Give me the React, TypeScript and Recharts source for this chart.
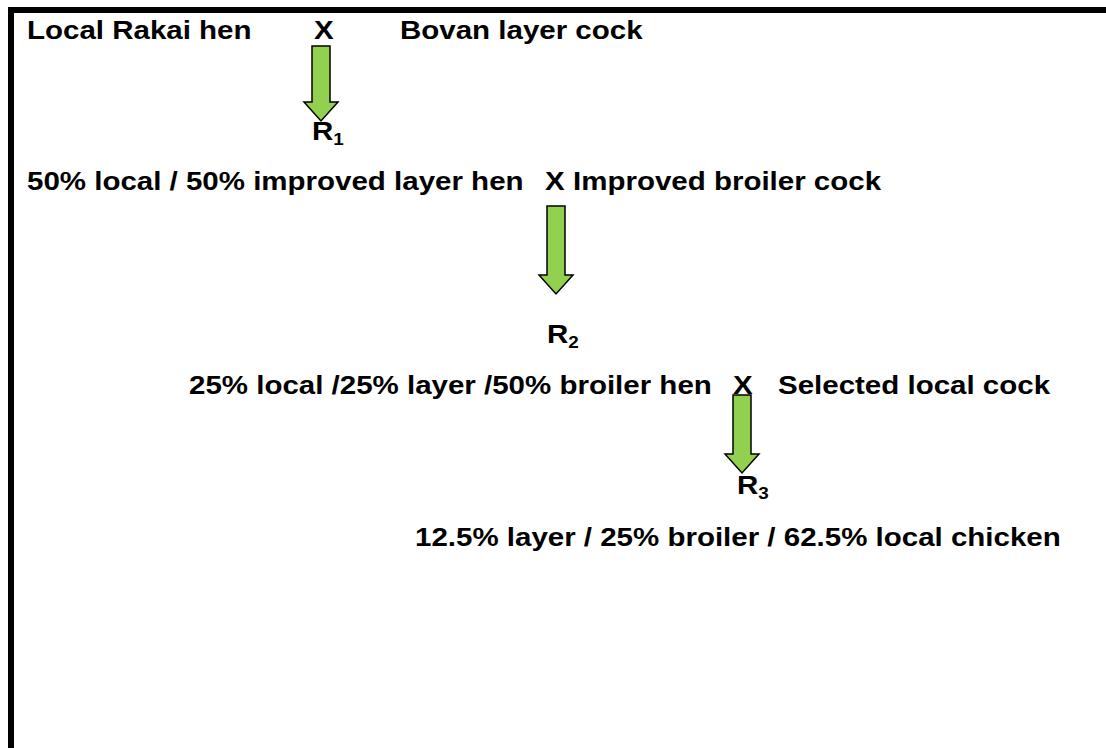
import { ReferenceLine, Scatter, ScatterChart, XAxis, YAxis } from "recharts";

// crossing scheme, one row per generation
const hens = [
  "Local Rakai hen",
  "50% local / 50% improved layer hen",
  "25% local /25% layer /50% broiler hen",
];
const cocks = ["Bovan layer cock", "Improved broiler cock", "Selected local cock"];
const offspring = "12.5% layer / 25% broiler / 62.5% local chicken";
const generations = ["1", "2", "3"];

// positions in page pixels (axis units == pixels)
const rowBaselines = [39, 190, 394, 546];
const henX = [27, 27, 189];
const crossX = [314, 545, 733];
const cockX = [400, 573, 778];
const offspringX = 415;
const arrowX = [321, 556, 742];
const arrowTop = [46, 206, 395];
const arrowTip = [121, 294, 473];
const genLabelX = [312, 547, 737];
const genLabelY = [140, 343, 494];

const W = 1106;
const H = 748;
const FONT = '"Liberation Sans", Arial, sans-serif';
const STRETCH = 1.18;

const labels = [
  ...hens.map((t, i) => ({ text: t, x: henX[i], y: rowBaselines[i] })),
  ...crossX.map((x, i) => ({ text: "X", x, y: rowBaselines[i] })),
  ...cocks.map((t, i) => ({ text: t, x: cockX[i], y: rowBaselines[i] })),
  { text: offspring, x: offspringX, y: rowBaselines[3] },
];

const arrows = arrowX.map((x, i) => ({ x, y: arrowTop[i], tip: arrowTip[i] }));

const genLabels = generations.map((g, i) => ({
  sub: g,
  x: genLabelX[i],
  y: genLabelY[i],
}));

const LabelShape = (props: any) => {
  const { cx, cy, payload } = props;
  return (
    <text
      transform={`translate(${cx},${cy}) scale(${STRETCH},1)`}
      x={0}
      y={0}
      fontFamily={FONT}
      fontWeight="bold"
      fontSize={25}
      fill="#000"
    >
      {payload.text}
    </text>
  );
};

const GenShape = (props: any) => {
  const { cx, cy, payload } = props;
  return (
    <text
      transform={`translate(${cx},${cy}) scale(${STRETCH},1)`}
      x={0}
      y={0}
      fontFamily={FONT}
      fontWeight="bold"
      fontSize={25}
      fill="#000"
    >
      R
      <tspan fontSize={16} dy={5}>
        {payload.sub}
      </tspan>
    </text>
  );
};

const ArrowShape = (props: any) => {
  const { cx, cy, payload } = props;
  // axis span equals pixel span, so data length is pixel length
  const len = payload.tip - payload.y;
  const shaft = 9;
  const head = 17;
  const headLen = 19;
  const d = [
    `M${cx - shaft},${cy}`,
    `L${cx + shaft},${cy}`,
    `L${cx + shaft},${cy + len - headLen}`,
    `L${cx + head},${cy + len - headLen}`,
    `L${cx},${cy + len}`,
    `L${cx - head},${cy + len - headLen}`,
    `L${cx - shaft},${cy + len - headLen}`,
    "Z",
  ].join(" ");
  return <path d={d} fill="#92D050" stroke="#000" strokeWidth={1.5} strokeLinejoin="miter" />;
};

export default function App() {
  return (
    <div style={{ position: "absolute", left: 0, top: 0, background: "#fff" }}>
      <ScatterChart width={W} height={H} margin={{ top: 0, right: 0, bottom: 0, left: 0 }}>
        <XAxis type="number" dataKey="x" domain={[0, W]} hide />
        <YAxis type="number" dataKey="y" domain={[0, H]} reversed hide />

        {/* frame */}
        <ReferenceLine
          segment={[{ x: 8, y: 10 }, { x: W, y: 10 }]}
          stroke="#000"
          strokeWidth={6}
        />
        <ReferenceLine
          segment={[{ x: 11, y: 7 }, { x: 11, y: H }]}
          stroke="#000"
          strokeWidth={6}
        />

        <Scatter data={arrows} shape={ArrowShape} isAnimationActive={false} />
        <Scatter data={labels} shape={LabelShape} isAnimationActive={false} />
        <Scatter data={genLabels} shape={GenShape} isAnimationActive={false} />
      </ScatterChart>
    </div>
  );
}
